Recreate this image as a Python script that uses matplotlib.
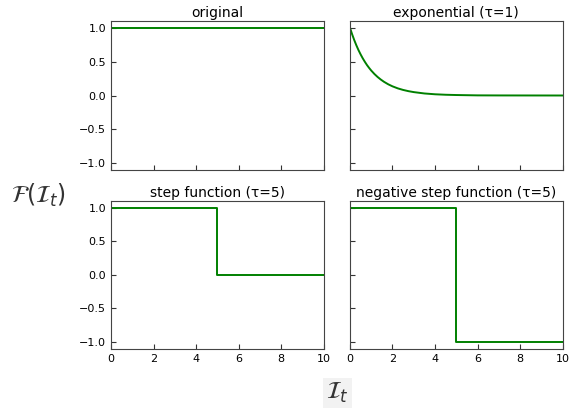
import numpy as np
import matplotlib
matplotlib.use("Agg")
import matplotlib.pyplot as plt

titles = ["original", "exponential (τ=1)", "step function (τ=5)", "negative step function (τ=5)"]

t_orig = [0, 10]
y_orig = [1.0, 1.0]

t_exp = [0, 0.1, 0.2, 0.3, 0.4, 0.5, 0.6, 0.7, 0.8, 0.9, 1.0, 1.15, 1.3, 1.45, 1.6, 1.8, 2.0, 2.25, 2.5, 2.75,
         3.0, 3.5, 4.0, 4.5, 5.0, 6.0, 7.0, 10.0]
y_exp = [1.0, 0.905, 0.819, 0.741, 0.670, 0.607, 0.549, 0.497, 0.449, 0.407, 0.368, 0.317, 0.273, 0.235, 0.202,
         0.165, 0.135, 0.105, 0.082, 0.064, 0.05, 0.03, 0.018, 0.011, 0.007, 0.002, 0.001, 0.0]

t_step = [0, 5, 5, 10]
y_step = [1.0, 1.0, 0.0, 0.0]

t_neg = [0, 5, 5, 10]
y_neg = [1.0, 1.0, -1.0, -1.0]

series = [(t_orig, y_orig), (t_exp, y_exp), (t_step, y_step), (t_neg, y_neg)]

fig = plt.figure(figsize=(5.69, 4.09), dpi=100)
positions = [
    [0.195, 0.584, 0.374, 0.365],
    [0.615, 0.584, 0.374, 0.365],
    [0.195, 0.147, 0.374, 0.362],
    [0.615, 0.147, 0.374, 0.362],
]
for i, (pos, (t, y), title) in enumerate(zip(positions, series, titles)):
    ax = fig.add_axes(pos)
    ax.plot(t, y, color="green", lw=1.4)
    ax.set_xlim(0, 10)
    ax.set_ylim(-1.1, 1.1)
    ax.set_yticks([-1.0, -0.5, 0.0, 0.5, 1.0])
    ax.set_xticks([0, 2, 4, 6, 8, 10])
    ax.tick_params(direction="in", labelsize=8, color="#333333")
    for s in ax.spines.values():
        s.set_color("#444444")
    ax.set_title(title, fontsize=10, pad=3)
    if i < 2:
        ax.tick_params(labelbottom=False)
    if i % 2 == 1:
        ax.tick_params(labelleft=False)

fig.text(0.067, 0.523, r"$\mathcal{F}(\mathcal{I}_t)$", fontsize=17, ha="center", va="center", color="#333333")
fig.text(0.593, 0.04, r"$\mathcal{I}_t$", fontsize=17, ha="center", va="center", color="#333333",
         bbox=dict(facecolor="#f2f2f2", edgecolor="none", pad=2))

fig.savefig("out.png", dpi=100)
